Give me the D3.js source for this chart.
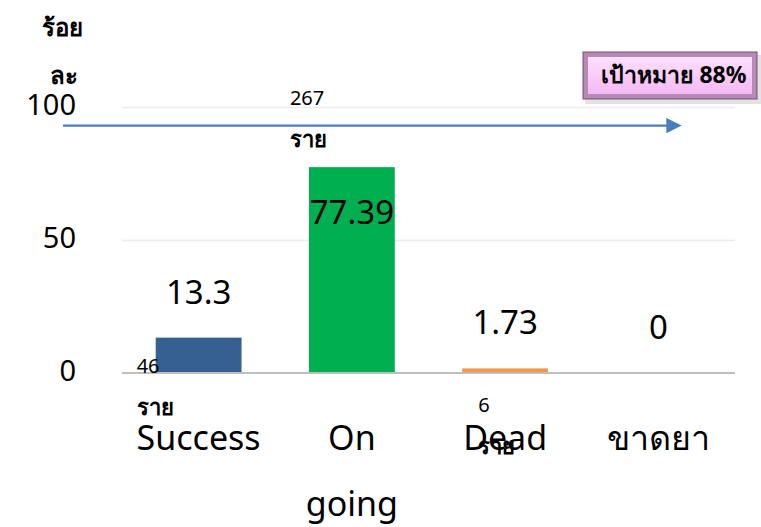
<!DOCTYPE html>
<meta charset="utf-8">
<style>
body { margin: 0; background: #fff; }
svg { font-family: "Noto Sans", "DejaVu Sans", sans-serif; }
.grid line { stroke: #ececec; stroke-width: 1.5; }
.grid .domain { display: none; }
</style>
<svg width="761" height="527"></svg>
<script src="https://d3js.org/d3.v7.min.js"></script>
<script>
// categories, percent values and patient counts
var categories = ["Success", "On going", "Dead", "ขาดยา"];
var percents   = [13.3, 77.39, 1.73, 0];
var counts     = [46, 267, 6, null];
var colors     = ["#366092", "#00b050", "#f79646", "#4f81bd"];
var yTicks     = [0, 50, 100];
var targetLine = 93;   // arrow height (reads a bit above the 88% target)

var svg = d3.select("svg");
var plotL = 122, plotR = 735, plotT = 107, plotB = 373;

var x = d3.scaleBand()
    .domain(categories)
    .range([plotL, plotR])
    .paddingInner(0.44)
    .paddingOuter(0.22);

var y = d3.scaleLinear()
    .domain([0, 100])
    .range([plotB, plotT]);

// grid lines
svg.append("g")
    .attr("class", "grid")
    .attr("transform", "translate(" + plotL + ",0)")
    .call(d3.axisLeft(y).tickValues([50, 100]).tickSize(-(plotR - plotL)).tickFormat(""));

// y tick labels
svg.selectAll(".ytick")
    .data(yTicks)
    .enter().append("text")
    .attr("class", "ytick")
    .attr("x", 76)
    .attr("y", function(d) { return y(d) - 2; })
    .attr("dy", "0.35em")
    .attr("text-anchor", "end")
    .style("font-size", "29px")
    .text(function(d) { return d; });

// y title
svg.append("text").attr("x", 62).attr("y", 36).attr("text-anchor", "middle")
    .style("font-size", "24px").style("font-weight", "bold").text("ร้อย");
svg.append("text").attr("x", 64).attr("y", 84).attr("text-anchor", "middle")
    .style("font-size", "24px").style("font-weight", "bold").text("ละ");

// bars
svg.selectAll(".bar")
    .data(categories)
    .enter().append("rect")
    .attr("class", "bar")
    .attr("x", function(d) { return x(d); })
    .attr("width", x.bandwidth())
    .attr("y", function(d, i) { return y(percents[i]); })
    .attr("height", function(d, i) { return plotB - y(percents[i]); })
    .attr("fill", function(d, i) { return colors[i]; });

// baseline
svg.append("line")
    .attr("x1", plotL).attr("x2", plotR)
    .attr("y1", plotB).attr("y2", plotB)
    .attr("stroke", "#bfbfbf").attr("stroke-width", 2);

// value labels
svg.selectAll(".val")
    .data(categories)
    .enter().append("text")
    .attr("class", "val")
    .attr("x", function(d) { return x(d) + x.bandwidth() / 2; })
    .attr("y", function(d, i) { return percents[i] > 50 ? y(percents[i]) + 57 : y(percents[i]) - 34; })
    .attr("text-anchor", "middle")
    .style("font-size", "33px")
    .text(function(d, i) { return percents[i]; });

// count labels ("n ราย" under / above each bar)
counts.forEach(function(c, i) {
    if (c === null) return;
    var cx = x(categories[i]) + x.bandwidth() / 2;
    var dx = [-62, -62, -27][i], cy = [373, 105, 412][i];
    svg.append("text").attr("x", cx + dx).attr("y", cy)
        .style("font-size", "20px").text(c);
    svg.append("text").attr("x", cx + dx).attr("y", cy + 42)
        .style("font-size", "22px").style("font-weight", "bold").text("ราย");
});

// category labels
svg.selectAll(".cat")
    .data(categories)
    .enter().append("text")
    .attr("class", "cat")
    .attr("x", function(d) { return x(d) + x.bandwidth() / 2; })
    .attr("y", 450)
    .attr("text-anchor", "middle")
    .style("font-size", "34px")
    .each(function(d) {
        var t = d3.select(this);
        d.split(" ").forEach(function(w, j) {
            t.append("tspan")
                .attr("x", x(d) + x.bandwidth() / 2)
                .attr("dy", j === 0 ? 0 : 66)
                .text(w);
        });
    });

// target arrow
var defs = svg.append("defs");
defs.append("marker")
    .attr("id", "arrow")
    .attr("viewBox", "0 0 10 10")
    .attr("refX", 5).attr("refY", 5)
    .attr("markerWidth", 7).attr("markerHeight", 7)
    .attr("orient", "auto")
    .append("path").attr("d", "M0,0L10,5L0,10z").attr("fill", "#4a7ebb");

svg.append("line")
    .attr("x1", 63).attr("x2", 674)
    .attr("y1", y(targetLine)).attr("y2", y(targetLine))
    .attr("stroke", "#4a7ebb").attr("stroke-width", 2.2)
    .attr("marker-end", "url(#arrow)");

// target box
var grad = defs.append("linearGradient").attr("id", "pink")
    .attr("x1", 0).attr("y1", 0).attr("x2", 0).attr("y2", 1);
grad.append("stop").attr("offset", "0%").attr("stop-color", "#fde0fd");
grad.append("stop").attr("offset", "100%").attr("stop-color", "#f4b8f4");

var box = svg.append("g").attr("transform", "translate(583,52)");
box.append("rect").attr("x", 2).attr("y", 3).attr("width", 176).attr("height", 49)
    .attr("fill", "#d0d0d0").attr("opacity", 0.6);
box.append("rect").attr("width", 174).attr("height", 47)
    .attr("fill", "#b58ab5");
box.append("rect").attr("x", 5).attr("y", 5).attr("width", 164).attr("height", 37)
    .attr("fill", "url(#pink)");
box.append("rect").attr("width", 174).attr("height", 47)
    .attr("fill", "none").attr("stroke", "#7a4a7a").attr("stroke-width", 1);
box.append("text").attr("x", 91).attr("y", 23).attr("dy", "0.35em")
    .attr("text-anchor", "middle")
    .style("font-size", "23px").style("font-weight", "bold")
    .text("เป้าหมาย 88%");
</script>
